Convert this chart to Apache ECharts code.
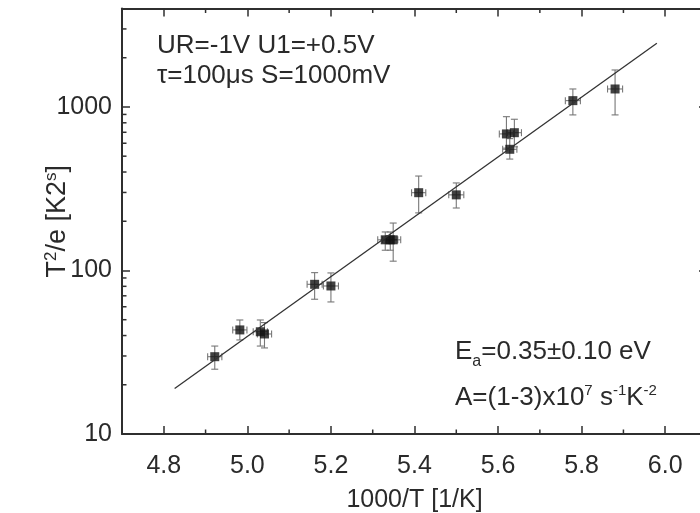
<!DOCTYPE html>
<html><head><meta charset="utf-8">
<script src="https://cdn.jsdelivr.net/npm/echarts@6/dist/echarts.min.js"></script>
<style>html,body{margin:0;padding:0;background:#fff}#c{width:700px;height:513px}</style>
</head><body><div id="c"></div>
<script>
// ---- data ----
const xTickLabels = ['4.8', '5.0', '5.2', '5.4', '5.6', '5.8', '6.0'];
const yTickLabels = ['10', '100', '1000'];
const xMinorTicks = [4.9, 5.1, 5.3, 5.5, 5.7, 5.9];
const yMinorTicks = [20, 30, 40, 50, 60, 70, 80, 90, 200, 300, 400, 500, 600, 700, 800, 900, 2000, 3000];

const invT     = [4.922, 4.982, 5.031, 5.041, 5.161, 5.200, 5.330, 5.342, 5.349, 5.410, 5.500, 5.620, 5.639, 5.628, 5.779, 5.880];
const invTErr  = [0.017, 0.017, 0.017, 0.017, 0.018, 0.018, 0.018, 0.018, 0.018, 0.017, 0.018, 0.017, 0.017, 0.017, 0.018, 0.018];
const t2e      = [29.7, 43.3, 42.2, 40.9, 82.3, 80.4, 154, 154, 154, 299, 290, 684, 696, 551, 1093, 1288];
const t2eLow   = [24.9, 37.6, 34.5, 33.6, 66.7, 64.2, 133, 133, 114, 225, 241, 560, 570, 480, 894, 894];
const t2eHigh  = [34.5, 49.8, 49.8, 48.0, 97.0, 96.6, 172, 172, 195, 378, 343, 872, 841, 640, 1288, 1683];

const fitX = [4.826, 5.980];
const fitY = [19.0, 2450];

// ---- chart ----
const FONT = '"Liberation Sans", Arial, sans-serif';
const axisColor = '#2f2f2f';
const textColor = '#2a2a2a';
const chart = echarts.init(document.getElementById('c'), null, {renderer: 'canvas'});

function baseX(pos, showLabels) {
  return {
    type: 'value', min: 4.7, max: 6.1, splitNumber: 7, position: pos,
    axisLine: {show: true, onZero: false, lineStyle: {color: axisColor, width: 2}},
    axisTick: {show: true, inside: true, length: 8, lineStyle: {color: axisColor, width: 1.5}},
    axisLabel: {
      show: showLabels, margin: 20, fontSize: 25, color: textColor, fontFamily: FONT,
      formatter: v => { const s = v.toFixed(1); return xTickLabels.includes(s) ? s : ''; }
    },
    splitLine: {show: false}
  };
}
function baseY(pos, showLabels) {
  return {
    type: 'log', logBase: 10, min: 10, max: 4000, position: pos,
    axisLine: {show: true, onZero: false, lineStyle: {color: axisColor, width: 2}},
    axisTick: {show: true, inside: true, length: 8, lineStyle: {color: axisColor, width: 1.5}},
    axisLabel: {
      show: showLabels, margin: 10, fontSize: 25, color: textColor, fontFamily: FONT,
      formatter: v => { const s = String(Math.round(v)); return yTickLabels.includes(s) ? s : ''; }
    },
    splitLine: {show: false}
  };
}

const xBottom = Object.assign(baseX('bottom', true), {
  name: '1000/T [1/K]', nameLocation: 'middle', nameGap: 54, nameMoveOverlap: false,
  nameTextStyle: {fontSize: 25, color: textColor, fontFamily: FONT}
});
const yLeft = Object.assign(baseY('left', true), {
  name: 'T{sup|2}/e [K2{sup|s}]', nameLocation: 'middle', nameGap: 49, nameRotate: 90, nameMoveOverlap: false,
  nameTextStyle: {fontSize: 27, color: textColor, fontFamily: FONT, lineHeight: 30,
    rich: {sup: {fontSize: 17, fontFamily: FONT, color: textColor, verticalAlign: 'top', lineHeight: 30}}}
});

const option = {
  backgroundColor: '#ffffff',
  animation: false,
  textStyle: {fontFamily: FONT},
  grid: {left: 122, top: 8.5, width: 585, height: 425.5, show: false, outerBoundsMode: 'none', containLabel: false},
  xAxis: [xBottom, baseX('top', false)],
  yAxis: [yLeft, baseY('right', false)],
  graphic: [
    {type: 'text', x: 157, y: 46, style: {text: 'UR=-1V U1=+0.5V', fontSize: 26, fontFamily: FONT, fill: textColor, align: 'left', verticalAlign: 'middle'}},
    {type: 'text', x: 157, y: 76, style: {text: 'τ=100μs S=1000mV', fontSize: 26, fontFamily: FONT, fill: textColor, align: 'left', verticalAlign: 'middle'}},
    {type: 'text', x: 455, y: 352, style: {text: 'E{sub|a}=0.35±0.10 eV', fontSize: 26, fontFamily: FONT, fill: textColor, align: 'left', verticalAlign: 'middle',
      rich: {sub: {fontSize: 16, fontFamily: FONT, fill: textColor, verticalAlign: 'bottom', lineHeight: 36}}}},
    {type: 'text', x: 455, y: 398, style: {text: 'A=(1-3)x10{sup|7} s{sup|-1}K{sup|-2}', fontSize: 26, fontFamily: FONT, fill: textColor, align: 'left', verticalAlign: 'middle',
      rich: {sup: {fontSize: 15, fontFamily: FONT, fill: textColor, verticalAlign: 'top', lineHeight: 30}}}}
  ],
  series: [
    { // x minor ticks (top & bottom, inside)
      type: 'custom', xAxisIndex: 0, yAxisIndex: 0, silent: true, clip: false,
      data: xMinorTicks.map(v => [v, 100]),
      encode: {x: 0, y: 1},
      renderItem: (params, api) => {
        const px = api.coord([api.value(0), 100])[0];
        const cs = params.coordSys;
        const st = {stroke: axisColor, lineWidth: 1.5};
        return {type: 'group', children: [
          {type: 'line', shape: {x1: px, y1: cs.y + cs.height, x2: px, y2: cs.y + cs.height - 4.5}, style: st},
          {type: 'line', shape: {x1: px, y1: cs.y, x2: px, y2: cs.y + 4.5}, style: st}
        ]};
      }
    },
    { // y minor ticks (left & right, inside)
      type: 'custom', xAxisIndex: 0, yAxisIndex: 0, silent: true, clip: false,
      data: yMinorTicks.map(v => [5.4, v]),
      encode: {x: 0, y: 1},
      renderItem: (params, api) => {
        const py = api.coord([5.4, api.value(1)])[1];
        const cs = params.coordSys;
        const st = {stroke: axisColor, lineWidth: 1.5};
        return {type: 'group', children: [
          {type: 'line', shape: {x1: cs.x, y1: py, x2: cs.x + 4.5, y2: py}, style: st},
          {type: 'line', shape: {x1: cs.x + cs.width, y1: py, x2: cs.x + cs.width - 4.5, y2: py}, style: st}
        ]};
      }
    },
    { // fit line
      type: 'line', xAxisIndex: 0, yAxisIndex: 0, symbol: 'none', silent: true,
      data: fitX.map((x, i) => [x, fitY[i]]),
      lineStyle: {color: '#333', width: 1.3}
    },
    { // error bars
      type: 'custom', xAxisIndex: 0, yAxisIndex: 0, silent: true,
      data: invT.map((x, i) => [x, t2e[i], x - invTErr[i], x + invTErr[i], t2eLow[i], t2eHigh[i]]),
      encode: {x: 0, y: 1},
      renderItem: (params, api) => {
        const c = api.coord([api.value(0), api.value(1)]);
        const xl = api.coord([api.value(2), api.value(1)])[0];
        const xh = api.coord([api.value(3), api.value(1)])[0];
        const yl = api.coord([api.value(0), api.value(4)])[1];
        const yh = api.coord([api.value(0), api.value(5)])[1];
        const cap = 3.5;
        const st = {stroke: '#777', lineWidth: 1.1};
        const L = (x1, y1, x2, y2) => ({type: 'line', shape: {x1, y1, x2, y2}, style: st});
        return {type: 'group', children: [
          L(c[0], yl, c[0], yh), L(c[0] - cap, yl, c[0] + cap, yl), L(c[0] - cap, yh, c[0] + cap, yh),
          L(xl, c[1], xh, c[1]), L(xl, c[1] - cap, xl, c[1] + cap), L(xh, c[1] - cap, xh, c[1] + cap)
        ]};
      }
    },
    { // data points
      type: 'scatter', xAxisIndex: 0, yAxisIndex: 0, symbol: 'rect', symbolSize: 9,
      itemStyle: {color: '#111'},
      data: invT.map((x, i) => [x, t2e[i]])
    }
  ]
};
chart.setOption(option);
</script>
</body></html>
